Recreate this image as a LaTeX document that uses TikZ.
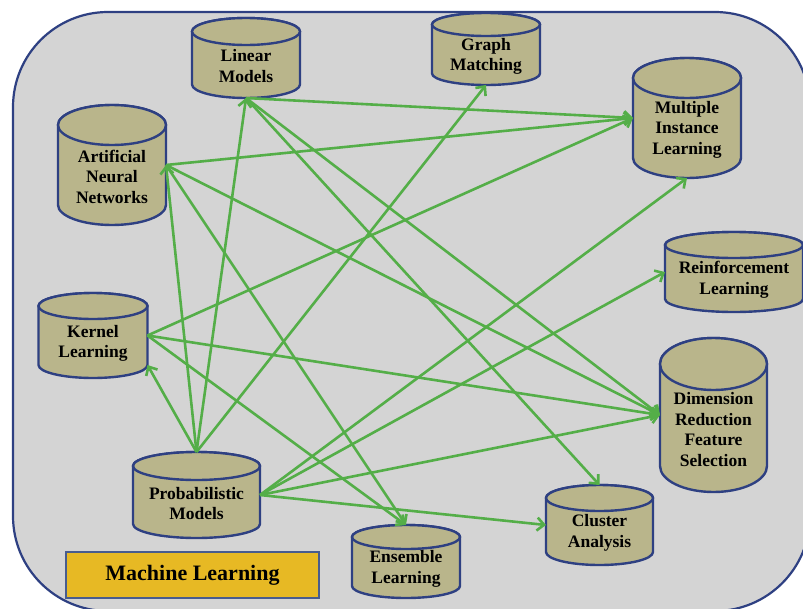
\documentclass[tikz,border=0pt]{standalone}
\usepackage{fontspec}
\setmainfont{Liberation Serif}
\usetikzlibrary{arrows.meta,calc}
\definecolor{bgc}{RGB}{212,212,212}
\definecolor{cylfill}{RGB}{185,181,139}
\definecolor{navy}{RGB}{46,64,130}
\definecolor{grn}{RGB}{84,174,72}
\definecolor{gold}{RGB}{231,185,36}
\definecolor{boxline}{RGB}{72,92,142}
\tikzset{
  cylsty/.style={fill=cylfill, draw=navy, line width=2.4pt},
  cylbox/.style={rectangle, inner sep=0pt, outer sep=0pt},
  cyltext/.style={align=center, inner sep=0pt, font=\fontsize{17.5}{20.5}\selectfont\bfseries, text=black},
  arr/.style={draw=grn, line width=2.6pt, -{Straight Barb[length=7pt,width=13pt]}},
  mlbox/.style={fill=gold, draw=boxline, line width=1.5pt, inner sep=0pt, font=\fontsize{22}{26}\selectfont\bfseries}
}
% #1 name, #2 cx, #3 top, #4 bottom, #5 half width, #6 ry, #7 text
\newcommand\mlcyl[7]{%
  \path[cylsty] ({#2-#5},{-(#3+#6)}) -- ({#2-#5},{-(#4-#6)})
     arc[start angle=180,end angle=360,x radius=#5pt,y radius=#6pt]
     -- ({#2+#5},{-(#3+#6)})
     arc[start angle=0,end angle=180,x radius=#5pt,y radius=#6pt] -- cycle;
  \path[cylsty] (#2,{-(#3+#6)}) ellipse[x radius=#5pt, y radius=#6pt];
  \node[cylbox, minimum width=2*#5pt, minimum height=(#4-#3)*1pt] (#1) at (#2,{-(#3+#4)/2}) {};
  \node[cyltext] (#1-t) at (#2,{-(#3+#4+#6)/2-1.5}) {#7};
  \coordinate (#1-br) at ({#2+#5},{-(#4-#6)});
}
\begin{document}
\begin{tikzpicture}[x=1pt,y=1pt]
\useasboundingbox (0,0) rectangle (803,-608);
\fill[white] (0,0) rectangle (803,-608);
\draw[fill=bgc, draw=navy, line width=2.2pt, rounded corners=95pt] (13,-12) rectangle (810,-611);

\mlcyl{lin}{246}{18}{98}{54}{13.5}{Linear\\Models}
\mlcyl{ann}{112}{105}{225}{54}{20}{Artificial\\Neural\\Networks}
\mlcyl{graph}{486}{13}{85}{54}{11.5}{Graph\\Matching}
\mlcyl{mil}{687}{58}{178}{54}{20}{Multiple\\Instance\\Learning}
\mlcyl{reinf}{734}{232}{312}{69}{13}{Reinforcement\\Learning}
\mlcyl{kern}{93}{293}{378}{54.5}{13}{Kernel\\Learning}
\mlcyl{prob}{196.5}{452}{538}{63.5}{14}{Probabilistic\\Models}
\mlcyl{ens}{406}{525}{598}{54}{12}{Ensemble\\Learning}
\mlcyl{clus}{599.5}{485}{565}{53.5}{13}{Cluster\\Analysis}
\mlcyl{dim}{713.5}{338}{492}{53.5}{26}{Dimension\\Reduction\\Feature\\Selection}

\node[mlbox, minimum width=253pt, minimum height=46pt] (ml) at (192.5,-575) {Machine Learning};

% connectors
\draw[arr] (prob.north) -- (kern-br);
\draw[arr] (prob.north) -- (ann.east);
\draw[arr] (prob.north) -- (lin.south);
\draw[arr] (prob.north) -- (graph.south);
\draw[arr] (prob.east) -- (mil.south);
\draw[arr] (prob.east) -- (reinf.west);
\draw[arr] (prob.east) -- (dim.west);
\draw[arr] (prob.east) -- (clus.west);
\draw[arr] (lin.south) -- (mil.west);
\draw[arr] (lin.south) -- (dim.west);
\draw[arr] (lin.south) -- (clus.north);
\draw[arr] (ann.east) -- (mil.west);
\draw[arr] (ann.east) -- (dim.west);
\draw[arr] (ann.east) -- (ens.north);
\draw[arr] (kern.east) -- (mil.west);
\draw[arr] (kern.east) -- (dim.west);
\draw[arr] (kern.east) -- (ens.north);
\end{tikzpicture}
\end{document}
